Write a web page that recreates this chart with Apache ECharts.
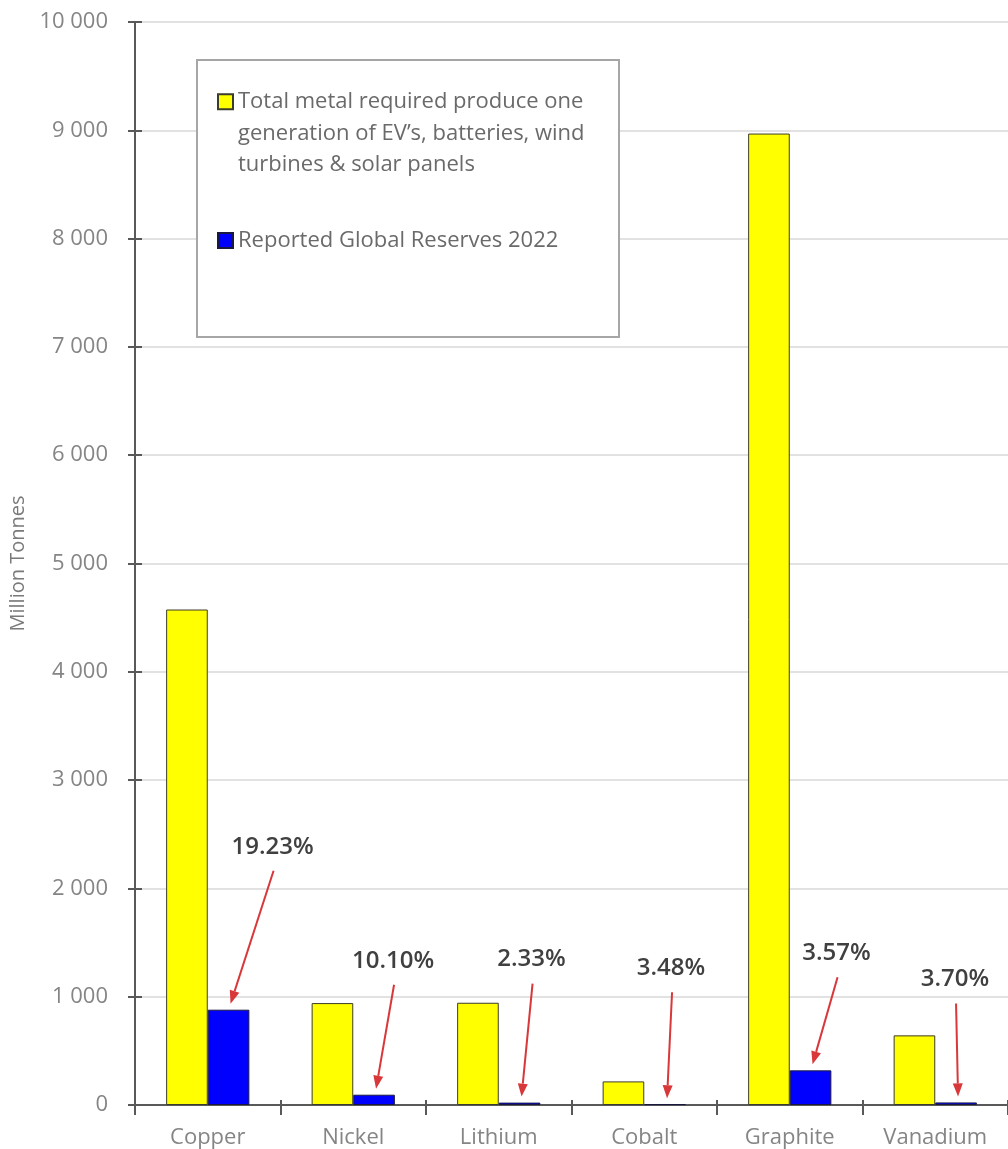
<!DOCTYPE html>
<html>
<head>
<meta charset="utf-8">
<title>Metal required vs reported reserves</title>
<script src="https://cdn.jsdelivr.net/npm/echarts@6/dist/echarts.min.js"></script>
<style>
  html, body { margin: 0; padding: 0; background: #ffffff; }
  #chart { width: 1008px; height: 1149px; }
</style>
</head>
<body>
<div id="chart"></div>
<script>
// Metals and tonnages (million tonnes)
const categories = ['Copper', 'Nickel', 'Lithium', 'Cobalt', 'Graphite', 'Vanadium'];
const requiredTonnes = [4575, 941, 944, 218, 8970, 643];
const reserveTonnes = [880, 95, 22, 7.58, 320, 23.8];
const reserveShareLabels = ['19.23%', '10.10%', '2.33%', '3.48%', '3.57%', '3.70%'];
const yTicks = { min: 0, max: 10000, step: 1000 };

const REQUIRED_NAME = 'Total metal required produce one generation of EV\u2019s, batteries, wind turbines & solar panels';
const RESERVES_NAME = 'Reported Global Reserves 2022';
// two blank lines first so the swatch sits beside the first line of the wrapped text
const REQUIRED_LEGEND_TEXT = '\n\nTotal metal required produce one\ngeneration of EV\u2019s, batteries, wind\nturbines & solar panels';

// Callout placement: label centre relative to the top of each reserve bar (px)
const calloutOffsets = [[44, -163], [19, -134], [12, -143], [6, -136], [26, -117], [-1, -123]];
const BAR_FRACTION = 0.286;      // width of one bar as a share of the category band
const TEXT_GREY = '#858585';
const AXIS_GREY = '#595959';
const FONT = '"Open Sans", sans-serif';

const fmtThousands = v => String(v).replace(/\B(?=(\d{3})+(?!\d))/g, ' ');

const chart = echarts.init(document.getElementById('chart'), null, { renderer: 'canvas' });

function renderCallout(params, api) {
  const i = api.value(0);
  const v = api.value(1);
  const top = api.coord([i, v]);
  const band = api.size([1, 0])[0];
  const cx = top[0] + band * BAR_FRACTION / 2;
  const off = calloutOffsets[i];
  const lx = cx + off[0];
  const ly = top[1] + off[1];
  const sx = lx + 1;
  const sy = ly + 24;
  const ex = cx + 2;
  const ey = top[1] - 6;
  const dx = ex - sx, dy = ey - sy;
  const len = Math.sqrt(dx * dx + dy * dy);
  const ux = dx / len, uy = dy / len;
  const headLen = 13, headHalf = 5;
  const bx = ex - ux * headLen, by = ey - uy * headLen;
  const red = '#d8383a';
  return {
    type: 'group',
    children: [
      {
        type: 'line',
        shape: { x1: sx, y1: sy, x2: bx, y2: by },
        style: { stroke: red, lineWidth: 2 }
      },
      {
        type: 'polygon',
        shape: { points: [[ex, ey], [bx - uy * headHalf, by + ux * headHalf], [bx + uy * headHalf, by - ux * headHalf]] },
        style: { fill: red }
      },
      {
        type: 'text',
        x: lx,
        y: ly,
        style: {
          text: reserveShareLabels[i],
          fill: '#404040',
          fontSize: 24,
          fontWeight: 600,
          fontFamily: FONT,
          align: 'center',
          verticalAlign: 'middle'
        }
      }
    ]
  };
}

const option = {
  backgroundColor: '#ffffff',
  animation: false,
  grid: { left: 135, top: 22, width: 881, height: 1085, containLabel: false },
  graphic: [{
    type: 'rect',
    z: 3,
    shape: { x: 197, y: 60, width: 422, height: 277 },
    style: { fill: '#ffffff', stroke: '#a6a6a6', lineWidth: 2 }
  }],
  legend: [
    {
      z: 6,
      left: 217,
      top: 23,
      padding: 0,
      orient: 'vertical',
      icon: 'rect',
      itemWidth: 15,
      itemHeight: 15,
      selectedMode: false,
      data: [REQUIRED_NAME],
      formatter: () => REQUIRED_LEGEND_TEXT,
      textStyle: { fontFamily: FONT, fontSize: 22, lineHeight: 31.5, color: '#6a6a6a' }
    },
    {
      z: 6,
      left: 217,
      top: 225,
      padding: 0,
      orient: 'vertical',
      icon: 'rect',
      itemWidth: 15,
      itemHeight: 15,
      selectedMode: false,
      data: [RESERVES_NAME],
      textStyle: { fontFamily: FONT, fontSize: 22, lineHeight: 31, color: '#6a6a6a' }
    }
  ],
  xAxis: [
    {
      type: 'category',
      data: categories,
      position: 'bottom',
      boundaryGap: true,
      axisLine: { show: true, lineStyle: { color: AXIS_GREY, width: 2 } },
      axisTick: { show: true, interval: 0, length: 10, lineStyle: { color: AXIS_GREY, width: 2 } },
      axisLabel: { interval: 0, margin: 22, color: TEXT_GREY, fontSize: 22, fontFamily: FONT },
      splitLine: { show: false }
    },
    {
      type: 'category',
      data: categories,
      position: 'bottom',
      boundaryGap: true,
      axisLine: { show: false },
      axisTick: { show: true, inside: true, interval: 0, length: 5, lineStyle: { color: AXIS_GREY, width: 2 } },
      axisLabel: { show: false },
      splitLine: { show: false }
    }
  ],
  yAxis: [
    {
      type: 'value',
      position: 'left',
      min: yTicks.min,
      max: yTicks.max,
      interval: yTicks.step,
      name: 'Million Tonnes',
      nameLocation: 'middle',
      nameGap: 106,
      nameRotate: 90,
      nameTextStyle: { color: '#7a7a7a', fontSize: 20, fontFamily: FONT },
      axisLine: { show: true, lineStyle: { color: AXIS_GREY, width: 2 } },
      axisTick: { show: true, length: 7, lineStyle: { color: AXIS_GREY, width: 2 } },
      axisLabel: { margin: 27, color: TEXT_GREY, fontSize: 22, fontFamily: FONT, formatter: fmtThousands },
      splitLine: { show: true, lineStyle: { color: '#e2e2e2', width: 2 } }
    },
    {
      type: 'value',
      position: 'left',
      min: yTicks.min,
      max: yTicks.max,
      interval: yTicks.step,
      axisLine: { show: false },
      axisTick: { show: true, inside: true, length: 7, lineStyle: { color: AXIS_GREY, width: 2 } },
      axisLabel: { show: false },
      splitLine: { show: false }
    }
  ],
  series: [
    {
      name: REQUIRED_NAME,
      type: 'bar',
      xAxisIndex: 0,
      yAxisIndex: 0,
      barWidth: (BAR_FRACTION * 100) + '%',
      barGap: '0%',
      data: requiredTonnes,
      itemStyle: { color: '#ffff00', borderColor: '#3c3c2a', borderWidth: 1 }
    },
    {
      name: RESERVES_NAME,
      type: 'bar',
      xAxisIndex: 0,
      yAxisIndex: 0,
      barWidth: (BAR_FRACTION * 100) + '%',
      barGap: '0%',
      data: reserveTonnes,
      itemStyle: { color: '#0000ff', borderColor: '#1a1a40', borderWidth: 1 }
    },
    {
      name: 'callouts',
      type: 'custom',
      xAxisIndex: 0,
      yAxisIndex: 0,
      z: 5,
      silent: true,
      renderItem: renderCallout,
      encode: { x: 0, y: 1 },
      data: reserveTonnes.map((v, i) => [i, v])
    }
  ]
};

chart.setOption(option);
</script>
</body>
</html>
